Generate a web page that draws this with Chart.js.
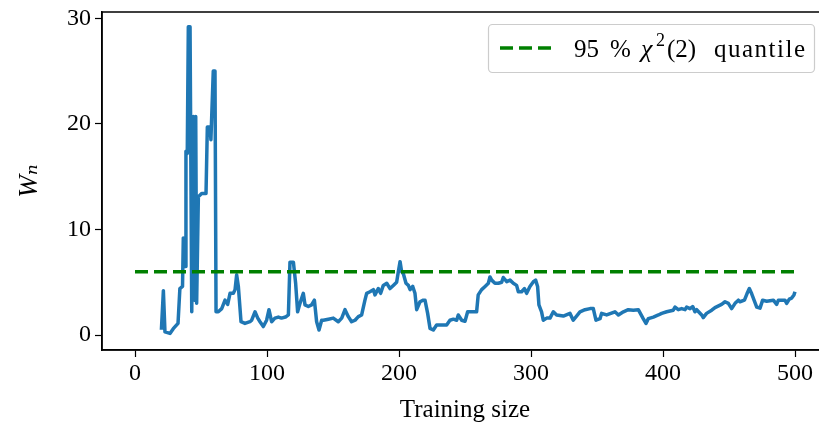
<!DOCTYPE html>
<html>
<head>
<meta charset="utf-8">
<script src="https://cdn.jsdelivr.net/npm/chart.js@4.4.1/dist/chart.umd.min.js"></script>
<style>
  html, body { margin: 0; padding: 0; overflow: hidden; background: #fff; }
</style>
</head>
<body>
<canvas id="ch1" width="840" height="429"></canvas>
<script>
// data
var trainSize = [20, 21.5, 22.7, 26.5, 29, 32.6, 34, 36, 36.6, 37.9, 38.6, 39.6, 40.4, 41.7, 43, 44.2, 45, 46, 46.7, 48,
  50.5, 53.8, 54.8, 56.8, 57.5, 59.3, 60.6, 61.4, 63.1, 65.7, 68.2, 70.2, 72, 74.5, 75.8, 77, 78.3, 80.3, 83.3, 87.1,
  88.4, 90.9, 93, 94.7, 97.2, 99.7, 101.5, 103.5, 106, 108.6, 111, 114, 116.2, 117.4, 120, 121.7, 123.2, 125, 127.5, 128.8,
  131.3, 133.8, 135.9, 137.6, 139.4, 141.4, 142.7, 146.5, 150.2, 154, 156.6, 159.1, 161.6, 164.1, 166.7, 169.2, 171.7, 174.2, 175.5, 178,
  180.6, 181.8, 184.3, 186.1, 188.1, 190.7, 193.2, 195.7, 198.2, 199.5, 200.8, 202, 203.3, 205.3, 207.1, 208.4, 210.4, 212.1, 213.4, 215.9,
  218.4, 219.7, 221.7, 223.5, 226, 228.5, 232.3, 236.1, 238.6, 241.2, 243.7, 244.9, 247.5, 250, 252, 255, 258.8, 260, 262.6, 265.2,
  267.7, 268.9, 270.2, 272.7, 275.3, 277.8, 279, 281.6, 284.1, 286.6, 289.1, 290.4, 292.9, 295, 296.7, 299.2, 301.8, 303.5, 305, 306,
  308, 309.3, 311.9, 314.4, 316.9, 319.4, 324.5, 329.5, 332, 337.1, 340.9, 344.7, 347.2, 349.2, 352.3, 353.5, 357.3, 363.6, 366.2, 370,
  373.7, 377.5, 381.3, 385, 387.1, 388.9, 392.7, 396.5, 399, 402.8, 407.8, 409.1, 411.6, 414.1, 416.7, 417.9, 420.5, 422.5, 424.2, 425.5,
  429.3, 430.5, 433, 436.9, 439.4, 444.4, 447, 449.5, 452, 454.6, 457.1, 458.3, 461.7, 463.6, 465.4, 467.2, 471, 473.5, 475.5, 478.5,
  483.6, 486.1, 487.4, 492.4, 493.7, 495.7, 497.5, 499.2, 500];
var wn = [0.5, 4.2, 0.3, 0.15, 0.6, 1.1, 4.4, 4.6, 9.2, 6.5, 17.4, 17.2, 29.2, 29.2, 2.2, 20.7, 3.3, 20.7, 3.0, 13.1,
  13.4, 13.4, 19.7, 19.7, 18.5, 25.0, 25.0, 2.2, 2.2, 2.5, 3.3, 2.9, 3.95, 3.95, 4.3, 5.7, 4.6, 1.26, 1.1, 1.26,
  1.4, 2.2, 1.6, 1.26, 0.8, 1.4, 2.4, 1.26, 1.6, 1.7, 1.6, 1.7, 1.9, 6.9, 6.9, 4.9, 2.2, 3.0, 3.95, 2.85,
  2.7, 2.85, 3.3, 1.26, 0.47, 1.4, 1.4, 1.5, 1.6, 1.26, 1.6, 2.4, 1.74, 1.26, 1.4, 1.74, 1.9, 3.3, 3.95, 4.1,
  4.3, 3.8, 4.4, 3.95, 4.7, 4.9, 4.4, 4.7, 5.0, 6.0, 6.95, 6.0, 5.8, 4.9, 4.7, 4.3, 4.6, 3.95, 2.4, 3.15,
  3.3, 3.3, 2.05, 0.63, 0.47, 0.95, 0.95, 0.95, 1.4, 1.5, 1.4, 1.9, 1.4, 1.3, 2.2, 2.2, 2.2, 3.8, 4.3, 4.6,
  4.9, 5.5, 5.2, 4.9, 4.9, 5.0, 5.45, 5.05, 5.2, 4.9, 4.7, 4.1, 4.1, 4.4, 3.95, 4.6, 5.05, 5.2, 4.6, 2.85,
  2.2, 1.4, 1.6, 1.6, 2.2, 1.9, 1.8, 2.05, 1.4, 2.2, 2.4, 2.5, 2.5, 1.4, 1.55, 2.05, 1.9, 2.2, 1.9, 2.2,
  2.4, 2.35, 2.4, 1.55, 1.1, 1.55, 1.7, 1.9, 2.05, 2.2, 2.35, 2.65, 2.4, 2.5, 2.4, 2.65, 2.5, 2.7, 2.2, 2.4,
  1.9, 1.65, 2.05, 2.35, 2.6, 2.9, 3.15, 3.0, 2.5, 3.0, 3.3, 3.15, 3.3, 3.9, 4.4, 3.9, 2.65, 2.55, 3.3, 3.2,
  3.3, 2.9, 3.3, 3.3, 3.0, 3.4, 3.5, 3.8, 4.1];
var quantX = [0, 500];
var quantY = [5.991, 5.991];
var xTicks = [0, 100, 200, 300, 400, 500];
var yTicks = [0, 10, 20, 30];
var legendLabel = ['95', '%', '\u03c7', '2', '(2)', 'quantile'];

var serif = "'Liberation Serif', 'DejaVu Serif', serif";

function pairs(xs, ys) {
  return xs.map(function (x, i) { return { x: x, y: ys[i] }; });
}

// axes frame (right side falls outside the window) + legend box inside the plot
var frameLegend = {
  id: 'frameLegend',
  afterDraw: function (chart) {
    var a = chart.chartArea, c = chart.ctx;
    c.save();
    c.strokeStyle = '#000';
    c.lineWidth = 1.5;
    c.beginPath();
    c.moveTo(a.right, a.top);
    c.lineTo(a.left, a.top);
    c.lineTo(a.left, a.bottom);
    c.lineTo(a.right, a.bottom);
    c.stroke();

    // legend
    c.beginPath();
    c.roundRect(488.5, 24.5, 326, 48, 4);
    c.fillStyle = 'rgba(255,255,255,0.8)';
    c.fill();
    c.strokeStyle = '#cccccc';
    c.lineWidth = 1.2;
    c.stroke();

    c.beginPath();
    c.setLineDash([13, 6]);
    c.strokeStyle = '#008000';
    c.lineWidth = 3.5;
    c.moveTo(500, 48);
    c.lineTo(553, 48);
    c.stroke();
    c.setLineDash([]);

    c.fillStyle = '#000';
    c.textBaseline = 'alphabetic';
    var y = 57;
    c.font = '25px ' + serif;
    c.fillText(legendLabel[0], 574, y);
    c.fillText(legendLabel[1], 610, y);
    c.font = 'italic 26px ' + serif;
    c.fillText(legendLabel[2], 641, y);
    c.font = '18px ' + serif;
    c.fillText(legendLabel[3], 656, y - 11);
    c.font = '25px ' + serif;
    c.fillText(legendLabel[4], 667, y);
    c.letterSpacing = '1.5px';
    c.fillText(legendLabel[5], 714, y);
    c.restore();
  }
};

var ctx = document.getElementById('ch1').getContext('2d');
var myChart = new Chart(ctx, {
  type: 'line',
  data: {
    datasets: [{
      label: '95 % \u03c7\u00b2(2) quantile',
      data: pairs(quantX, quantY),
      borderColor: '#008000',
      borderWidth: 3.5,
      borderDash: [13, 6],
      pointRadius: 0,
      order: 0
    }, {
      label: 'Wn',
      data: pairs(trainSize, wn),
      borderColor: '#1f77b4',
      borderWidth: 3.5,
      pointRadius: 0,
      tension: 0,
      borderJoinStyle: 'round',
      order: 1
    }]
  },
  options: {
    responsive: false,
    animation: false,
    layout: { padding: { top: 12, right: 12, left: 0, bottom: 0 } },
    plugins: { legend: { display: false }, tooltip: { enabled: false } },
    scales: {
      x: {
        type: 'linear',
        min: -25,
        max: 525,
        afterBuildTicks: function (s) { s.ticks = xTicks.map(function (v) { return { value: v }; }); },
        afterFit: function (s) { s.height = 79; s.paddingLeft = 0; s.paddingRight = 0; },
        grid: { drawOnChartArea: false, color: '#000', tickLength: 7, tickWidth: 1.2 },
        border: { color: '#000', width: 1.5 },
        ticks: { color: '#000', font: { family: serif, size: 24 }, padding: 2, maxRotation: 0 },
        title: { display: true, text: 'Training size', color: '#000', font: { family: serif, size: 25 }, padding: { top: 0 } }
      },
      y: {
        min: -1.42,
        max: 30.6,
        afterBuildTicks: function (s) { s.ticks = yTicks.map(function (v) { return { value: v }; }); },
        afterFit: function (s) { s.width = 102; s.paddingTop = 0; s.paddingBottom = 0; },
        grid: { drawOnChartArea: false, color: '#000', tickLength: 7, tickWidth: 1.2 },
        border: { color: '#000', width: 1.5 },
        ticks: { color: '#000', font: { family: serif, size: 24 }, padding: 4 },
        title: { display: true, text: 'W\u2099', color: '#000', font: { family: serif, size: 27, style: 'italic' }, padding: { top: 14 } }
      }
    }
  },
  plugins: [frameLegend]
});
</script>
</body>
</html>
